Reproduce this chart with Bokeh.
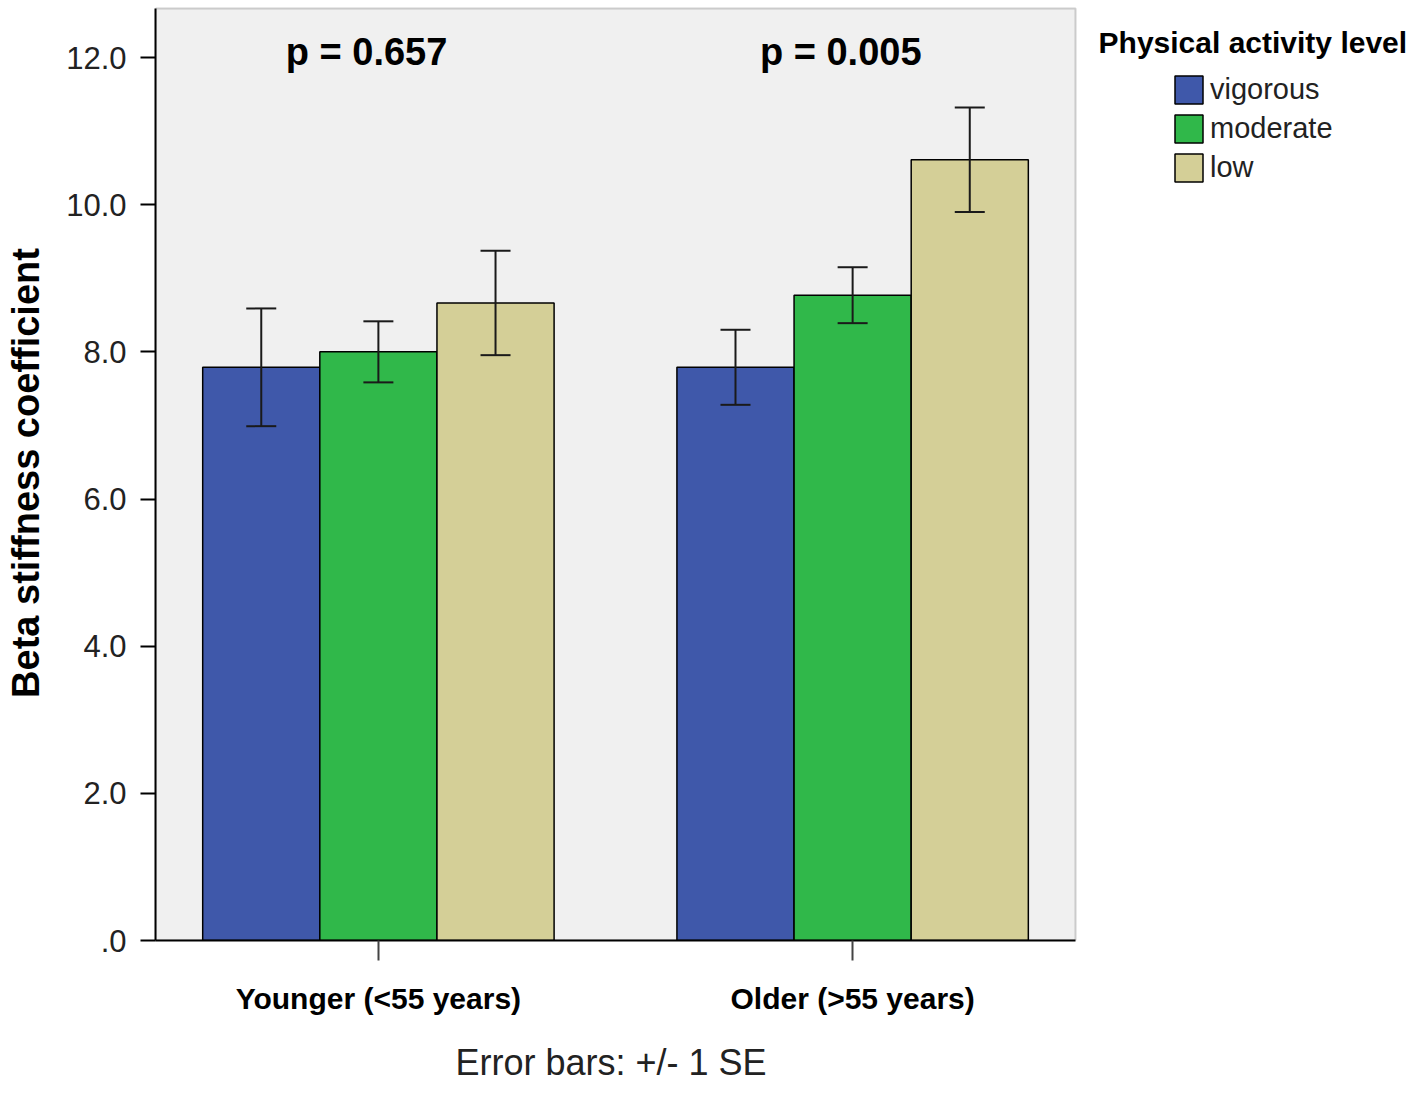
from bokeh.plotting import figure
from bokeh.models import (ColumnDataSource, Whisker, TeeHead, Legend, LegendItem,
                          Label, FixedTicker, Range1d, BoxAnnotation, Title)
from bokeh.embed import file_html
from bokeh.resources import INLINE

# ---- data ----
groups = ["Younger (<55 years)", "Older (>55 years)"]
levels = ["vigorous", "moderate", "low"]
vigorous = [7.79, 7.79]
vigorous_se = [0.80, 0.51]
moderate = [8.00, 8.77]
moderate_se = [0.415, 0.38]
low = [8.665, 10.61]
low_se = [0.71, 0.71]
p_values = ["p = 0.657", "p = 0.005"]
y_ticks = [0, 2, 4, 6, 8, 10, 12]
y_tick_labels = [".0", "2.0", "4.0", "6.0", "8.0", "10.0", "12.0"]
colors = ["#3F58AA", "#30B84A", "#D4CF97"]
legend_title = "Physical activity level"
footnote = "Error bars: +/- 1 SE"

FONT = "Liberation Sans"
W, H = 1416, 1106
BAR_W = 0.247
X0, X1 = -0.47, 1.47          # extent of the grey plotting area
Y1 = 12.666                   # top of the grey plotting area

p = figure(width=W, height=H, output_backend="svg", toolbar_location=None,
           x_range=Range1d(X0, 2.189), y_range=Range1d(0, 12.707),
           min_border_left=155, min_border_right=0, min_border_top=5,
           min_border_bottom=H - 940)
p.background_fill_color = "white"
p.border_fill_color = "white"
p.outline_line_color = None
p.xgrid.visible = False
p.ygrid.visible = False

p.add_layout(BoxAnnotation(left=X0, right=X1, bottom=0, top=Y1,
                           fill_color="#F0F0F0", fill_alpha=1.0,
                           line_color="#666666", line_width=2, level="underlay"))

group_x = list(range(len(groups)))
series = [(vigorous, vigorous_se), (moderate, moderate_se), (low, low_se)]
offsets = [-BAR_W, 0.0, BAR_W]

items = []
for lvl, (vals, ses), off, col in zip(levels, series, offsets, colors):
    src = ColumnDataSource(dict(
        x=[g + off for g in group_x],
        top=vals,
        upper=[v + s for v, s in zip(vals, ses)],
        lower=[v - s for v, s in zip(vals, ses)],
    ))
    r = p.vbar(x="x", top="top", width=BAR_W, bottom=0, source=src,
               fill_color=col, line_color="black", line_width=1.5)
    w = Whisker(base="x", upper="upper", lower="lower", source=src,
                dimension="height", line_color="#1a1a1a", line_width=2,
                level="overlay",
                upper_head=TeeHead(size=30, line_color="#1a1a1a", line_width=2),
                lower_head=TeeHead(size=30, line_color="#1a1a1a", line_width=2))
    p.add_layout(w)
    items.append(LegendItem(label=lvl, renderers=[r]))

# legend: location is the bottom-left corner, in px from the frame's bottom-left
legend = Legend(items=items, location=(1171 - 155, 755))
legend.glyph_width = 35
legend.glyph_height = 35
legend.label_height = 35
legend.spacing = 4
legend.padding = 0
legend.margin = 0
legend.label_standoff = 4
legend.label_text_font = FONT
legend.label_text_font_size = "29px"
legend.label_text_color = "#222222"
legend.label_text_baseline = "middle"
legend.border_line_alpha = 0
legend.background_fill_alpha = 0
p.add_layout(legend)

p.add_layout(Label(x=X0 + (1098 - 155) / 474.2, y=12.2, text=legend_title,
                   text_font=FONT, text_font_style="bold", text_font_size="30px",
                   text_baseline="middle", text_align="left", text_color="black"))

for gx, pv in zip(group_x, p_values):
    p.add_layout(Label(x=gx - 0.025, y=12.07, text=pv, text_font=FONT,
                       text_font_style="bold", text_font_size="38px",
                       text_baseline="middle", text_align="center",
                       text_color="black"))

# y axis
ya = p.yaxis[0]
ya.ticker = FixedTicker(ticks=y_ticks)
ya.major_label_overrides = dict(zip(y_ticks, y_tick_labels))
ya.minor_tick_line_color = None
ya.major_tick_out = 15
ya.major_tick_in = 0
ya.major_tick_line_color = "black"
ya.major_tick_line_width = 2
ya.axis_line_color = "black"
ya.axis_line_width = 2
ya.bounds = (0, Y1)
ya.major_label_standoff = 14
ya.major_label_text_font = FONT
ya.major_label_text_font_size = "31px"
ya.major_label_text_color = "#222222"
ya.axis_label = "Beta stiffness coefficient"
ya.axis_label_text_font = FONT
ya.axis_label_text_font_style = "bold"
ya.axis_label_text_font_size = "38px"
ya.axis_label_text_color = "black"
ya.axis_label_standoff = 16

# x axis
xa = p.xaxis[0]
xa.ticker = FixedTicker(ticks=group_x)
xa.major_label_overrides = dict(zip(group_x, groups))
xa.bounds = (X0, X1)
xa.minor_tick_line_color = None
xa.major_tick_out = 20
xa.major_tick_in = 0
xa.major_tick_line_color = "#444444"
xa.major_tick_line_width = 2
xa.axis_line_color = "black"
xa.axis_line_width = 2
xa.major_label_standoff = 21
xa.major_label_text_font = FONT
xa.major_label_text_font_style = "bold"
xa.major_label_text_font_size = "30px"
xa.major_label_text_color = "black"

foot = Title(text=footnote, align="left", offset=455 - 155, standoff=44,
             text_font=FONT, text_font_style="normal", text_font_size="36px",
             text_color="#222222")
p.add_layout(foot, "below")

open("out.html", "w").write(file_html(p, INLINE))
